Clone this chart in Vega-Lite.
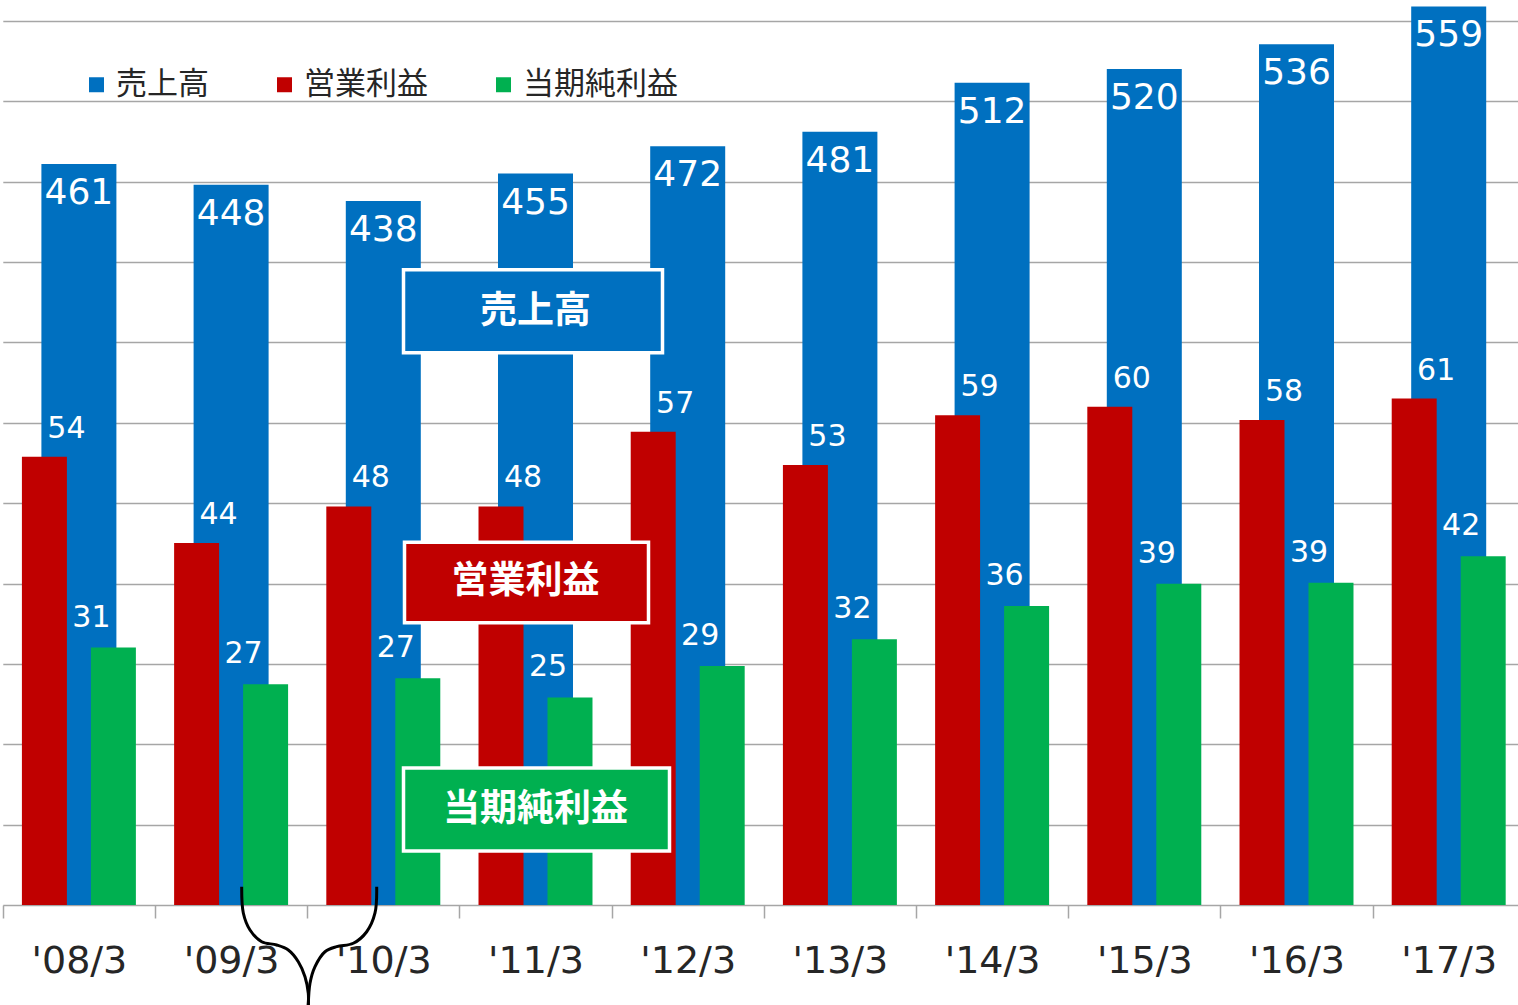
{
  "$schema": "https://vega.github.io/schema/vega-lite/v6.json",
  "width": 1507,
  "height": 905,
  "autosize": {"type": "none"},
  "padding": {"left": 11, "top": 0, "right": 0, "bottom": 100},
  "background": "white",
  "config": {"view": {"stroke": null}, "font": "DejaVu Sans"},
  "datasets": {
    "fin": [
      {"year": "'08/3", "series": "売上高", "value": 461},
      {"year": "'09/3", "series": "売上高", "value": 448},
      {"year": "'10/3", "series": "売上高", "value": 438},
      {"year": "'11/3", "series": "売上高", "value": 455},
      {"year": "'12/3", "series": "売上高", "value": 472},
      {"year": "'13/3", "series": "売上高", "value": 481},
      {"year": "'14/3", "series": "売上高", "value": 511.5},
      {"year": "'15/3", "series": "売上高", "value": 520},
      {"year": "'16/3", "series": "売上高", "value": 535.5},
      {"year": "'17/3", "series": "売上高", "value": 559},
      {"year": "'08/3", "series": "営業利益", "value": 54},
      {"year": "'09/3", "series": "営業利益", "value": 43.6},
      {"year": "'10/3", "series": "営業利益", "value": 48},
      {"year": "'11/3", "series": "営業利益", "value": 48},
      {"year": "'12/3", "series": "営業利益", "value": 57},
      {"year": "'13/3", "series": "営業利益", "value": 53},
      {"year": "'14/3", "series": "営業利益", "value": 59},
      {"year": "'15/3", "series": "営業利益", "value": 60},
      {"year": "'16/3", "series": "営業利益", "value": 58.4},
      {"year": "'17/3", "series": "営業利益", "value": 61},
      {"year": "'08/3", "series": "当期純利益", "value": 31},
      {"year": "'09/3", "series": "当期純利益", "value": 26.6},
      {"year": "'10/3", "series": "当期純利益", "value": 27.3},
      {"year": "'11/3", "series": "当期純利益", "value": 25},
      {"year": "'12/3", "series": "当期純利益", "value": 28.8},
      {"year": "'13/3", "series": "当期純利益", "value": 32},
      {"year": "'14/3", "series": "当期純利益", "value": 36},
      {"year": "'15/3", "series": "当期純利益", "value": 38.7},
      {"year": "'16/3", "series": "当期純利益", "value": 38.8},
      {"year": "'17/3", "series": "当期純利益", "value": 42}
    ],
    "boxes": [
      {"year": "'11/3", "label": "売上高", "lo": 66.5, "hi": 76.5, "mid": 71.4},
      {"year": "'11/3", "label": "営業利益", "lo": 34.0, "hi": 43.7, "mid": 38.9},
      {"year": "'11/3", "label": "当期純利益", "lo": 6.5, "hi": 16.5, "mid": 11.5}
    ],
    "brace": [
      {"arm": "L", "k": 1, "pos": 1.5696, "level": 2.20},
      {"arm": "L", "k": 2, "pos": 1.5802, "level": -0.96},
      {"arm": "L", "k": 3, "pos": 1.6242, "level": -3.01},
      {"arm": "L", "k": 4, "pos": 1.7010, "level": -4.42},
      {"arm": "L", "k": 5, "pos": 1.7996, "level": -4.82},
      {"arm": "L", "k": 6, "pos": 1.8758, "level": -5.42},
      {"arm": "L", "k": 7, "pos": 1.9415, "level": -6.83},
      {"arm": "L", "k": 8, "pos": 1.9855, "level": -8.64},
      {"arm": "L", "k": 9, "pos": 2.0072, "level": -10.64},
      {"arm": "L", "k": 10, "pos": 2.0072, "level": -12.05},
      {"arm": "R", "k": 1, "pos": 2.4566, "level": 2.20},
      {"arm": "R", "k": 2, "pos": 2.4455, "level": -0.96},
      {"arm": "R", "k": 3, "pos": 2.3909, "level": -3.22},
      {"arm": "R", "k": 4, "pos": 2.3029, "level": -4.61},
      {"arm": "R", "k": 5, "pos": 2.1938, "level": -5.02},
      {"arm": "R", "k": 6, "pos": 2.1170, "level": -5.63},
      {"arm": "R", "k": 7, "pos": 2.0513, "level": -7.43},
      {"arm": "R", "k": 8, "pos": 2.0184, "level": -9.43},
      {"arm": "R", "k": 9, "pos": 2.0072, "level": -12.05}
    ]
  },
  "layer": [
    {
      "encoding": {
        "x": {
          "field": "year", "type": "nominal", "sort": null,
          "scale": {"range": [-8.2, 1513.8], "paddingInner": 0, "paddingOuter": 0},
          "axis": {
            "title": null, "labelAngle": 0, "labelFontSize": 38, "labelFont": "DejaVu Sans",
            "labelColor": "#262626", "tickBand": "extent", "tickSize": 13, "tickColor": "#a6a6a6",
            "tickWidth": 1.5, "domain": false, "labelPadding": 24, "grid": false
          }
        }
      },
      "layer": [
        {
          "data": {"name": "fin"},
          "transform": [{"filter": "datum.series === '売上高'"}],
          "encoding": {
            "y": {
              "field": "value", "type": "quantitative",
              "scale": {"domain": [0, 563], "nice": false, "zero": true},
              "axis": {
                "values": [0, 50, 100, 150, 200, 250, 300, 350, 400, 450, 500, 550],
                "grid": true, "gridColor": "#a6a6a6", "gridWidth": 1.5,
                "labels": false, "ticks": false, "domain": false, "title": null
              }
            }
          },
          "layer": [
            {
              "mark": {"type": "bar", "width": 75},
              "encoding": {
                "color": {
                  "field": "series", "type": "nominal",
                  "scale": {"domain": ["売上高", "営業利益", "当期純利益"], "range": ["#0070C0", "#C00000", "#00B050"]},
                  "legend": {
                    "title": null, "orient": "none", "legendX": 70, "legendY": 69, "direction": "horizontal",
                    "symbolType": "square", "symbolSize": 225, "symbolStrokeWidth": 0, "symbolOpacity": 1,
                    "labelFontSize": 31, "labelFont": "Noto Sans CJK JP", "labelColor": "#262626",
                    "labelOffset": 4, "columnPadding": 60, "padding": 0, "labelLimit": 0
                  }
                }
              }
            },
            {
              "mark": {"type": "text", "color": "white", "fontSize": 36, "font": "DejaVu Sans", "baseline": "middle", "dy": 29},
              "encoding": {"text": {"field": "value", "type": "quantitative", "format": ".0f"}}
            }
          ]
        },
        {
          "layer": [
            {
              "data": {"name": "fin"},
              "transform": [{"filter": "datum.series !== '売上高'"}],
              "mark": {"type": "bar"},
              "encoding": {
                "xOffset": {"field": "series", "type": "nominal", "scale": {"domain": ["営業利益", "当期純利益"], "paddingInner": 0.348, "paddingOuter": 0.277}},
                "y": {"field": "value", "type": "quantitative", "scale": {"domain": [0, 109], "nice": false}, "axis": null},
                "color": {
                  "field": "series", "type": "nominal",
                  "scale": {"domain": ["売上高", "営業利益", "当期純利益"], "range": ["#0070C0", "#C00000", "#00B050"]},
                  "legend": {
                    "title": null, "orient": "none", "legendX": 70, "legendY": 69, "direction": "horizontal",
                    "symbolType": "square", "symbolSize": 225, "symbolStrokeWidth": 0, "symbolOpacity": 1,
                    "labelFontSize": 31, "labelFont": "Noto Sans CJK JP", "labelColor": "#262626",
                    "labelOffset": 4, "columnPadding": 60, "padding": 0, "labelLimit": 0
                  }
                }
              }
            },
            {
              "data": {"name": "fin"},
              "transform": [{"filter": "datum.series === '営業利益'"}],
              "mark": {"type": "text", "color": "white", "fontSize": 30, "font": "DejaVu Sans", "baseline": "middle", "dx": 22, "dy": -28},
              "encoding": {
                "xOffset": {"field": "series", "type": "nominal", "scale": {"domain": ["営業利益", "当期純利益"], "paddingInner": 0.348, "paddingOuter": 0.277}},
                "y": {"field": "value", "type": "quantitative", "scale": {"domain": [0, 109], "nice": false}, "axis": null},
                "text": {"field": "value", "type": "quantitative", "format": ".0f"}
              }
            },
            {
              "data": {"name": "fin"},
              "transform": [{"filter": "datum.series === '当期純利益'"}],
              "mark": {"type": "text", "color": "white", "fontSize": 30, "font": "DejaVu Sans", "baseline": "middle", "dx": -22, "dy": -30},
              "encoding": {
                "xOffset": {"field": "series", "type": "nominal", "scale": {"domain": ["営業利益", "当期純利益"], "paddingInner": 0.348, "paddingOuter": 0.277}},
                "y": {"field": "value", "type": "quantitative", "scale": {"domain": [0, 109], "nice": false}, "axis": null},
                "text": {"field": "value", "type": "quantitative", "format": ".0f"}
              }
            },
            {
              "data": {"name": "boxes"},
              "transform": [{"filter": "datum.label === '売上高'"}],
              "mark": {"type": "bar", "width": 259, "xOffset": -2.5, "fill": "#0070C0", "stroke": "white", "strokeWidth": 3.5},
              "encoding": {
                "y": {"field": "lo", "type": "quantitative", "scale": {"domain": [0, 109], "nice": false}, "axis": null},
                "y2": {"field": "hi"}
              }
            },
            {
              "data": {"name": "boxes"},
              "transform": [{"filter": "datum.label === '営業利益'"}],
              "mark": {"type": "bar", "width": 244, "xOffset": -9, "fill": "#C00000", "stroke": "white", "strokeWidth": 3.5},
              "encoding": {
                "y": {"field": "lo", "type": "quantitative", "scale": {"domain": [0, 109], "nice": false}, "axis": null},
                "y2": {"field": "hi"}
              }
            },
            {
              "data": {"name": "boxes"},
              "transform": [{"filter": "datum.label === '当期純利益'"}],
              "mark": {"type": "bar", "width": 266, "xOffset": 1, "fill": "#00B050", "stroke": "white", "strokeWidth": 3.5},
              "encoding": {
                "y": {"field": "lo", "type": "quantitative", "scale": {"domain": [0, 109], "nice": false}, "axis": null},
                "y2": {"field": "hi"}
              }
            },
            {
              "data": {"name": "boxes"},
              "transform": [{"filter": "datum.label === '営業利益'"}],
              "mark": {"type": "text", "color": "white", "fontSize": 37, "font": "Noto Sans CJK JP", "fontWeight": "bold", "baseline": "middle", "dx": -10},
              "encoding": {
                "y": {"field": "mid", "type": "quantitative", "scale": {"domain": [0, 109], "nice": false}, "axis": null},
                "text": {"field": "label"}
              }
            },
            {
              "data": {"name": "boxes"},
              "transform": [{"filter": "datum.label !== '営業利益'"}],
              "mark": {"type": "text", "color": "white", "fontSize": 37, "font": "Noto Sans CJK JP", "fontWeight": "bold", "baseline": "middle", "dx": 0},
              "encoding": {
                "y": {"field": "mid", "type": "quantitative", "scale": {"domain": [0, 109], "nice": false}, "axis": null},
                "text": {"field": "label"}
              }
            }
          ]
        }
      ],
      "resolve": {"scale": {"y": "independent"}}
    },
    {
      "data": {"name": "brace"},
      "mark": {"type": "line", "color": "black", "strokeWidth": 3, "interpolate": "catmull-rom", "clip": false},
      "encoding": {
        "x": {"field": "pos", "type": "quantitative", "scale": {"domain": [0, 10], "range": [-8.2, 1513.8], "nice": false, "zero": false}, "axis": null},
        "y": {"field": "level", "type": "quantitative", "scale": {"domain": [0, 109], "nice": false, "zero": false}, "axis": null},
        "detail": {"field": "arm"},
        "order": {"field": "k"}
      }
    }
  ],
  "resolve": {"scale": {"x": "independent", "y": "independent"}}
}
